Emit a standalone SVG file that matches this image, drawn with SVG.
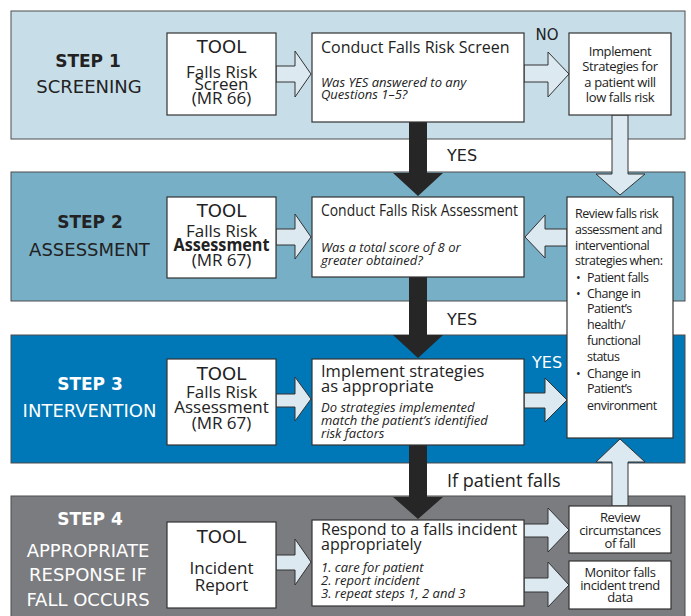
<svg xmlns="http://www.w3.org/2000/svg" width="691" height="616" viewBox="0 0 691 616">
<style>
.band{stroke:#4d4d4d;stroke-width:1}
.box{fill:#ffffff;stroke:#333333;stroke-width:1.2}
.la{fill:#dde9f0;stroke:#333333;stroke-width:1}
.da{fill:#262626}
text{font-family:"Open Sans","Noto Sans",sans-serif;fill:#222222}
.cap{font-family:"DejaVu Sans",sans-serif}
.step{font-family:"DejaVu Sans",sans-serif;font-weight:bold;font-size:17px}
.stage{font-family:"DejaVu Sans",sans-serif;font-size:18px}
.w{fill:#ffffff}
.tool{font-family:"DejaVu Sans",sans-serif;font-size:18px;text-anchor:middle}
.tt{font-size:17px;text-anchor:middle}
.ti{font-size:16px}
.it{font-size:13px;font-style:italic}
.sm{font-size:13px;text-anchor:middle;letter-spacing:-0.4px}
.rv{font-size:12.5px;letter-spacing:-0.5px}
.mid{text-anchor:middle}
</style>

<g id="bands">
<rect class="band" x="11" y="11" width="674" height="128" fill="#c7dee9"/>
<rect class="band" x="11" y="172" width="674" height="129" fill="#77afc6"/>
<rect class="band" x="11" y="335" width="674" height="128" fill="#0077b6"/>
<rect class="band" x="11" y="496" width="674" height="125" fill="#7b7c80"/>
</g>

<g id="step-labels">
<text class="step mid" x="88" y="67">STEP 1</text>
<text class="stage mid" x="89" y="93">SCREENING</text>
<text class="step mid" x="90" y="228">STEP 2</text>
<text class="stage mid" x="89.5" y="256">ASSESSMENT</text>
<text class="step mid w" x="90" y="390">STEP 3</text>
<text class="stage mid w" x="89.5" y="417">INTERVENTION</text>
<text class="step mid w" x="90" y="525">STEP 4</text>
<text class="stage mid w" x="88" y="557">APPROPRIATE</text>
<text class="stage mid w" x="88" y="581">RESPONSE IF</text>
<text class="stage mid w" x="88" y="606">FALL OCCURS</text>
</g>

<g id="connectors">
<path class="la" d="M276,66 H295 V51 L311,74 L295,97 V82 H276 Z"/>
<path class="la" d="M524,65 H548 V52 L569,74 L548,97 V82 H524 Z"/>
<path class="la" d="M612,115 V174 H596 L620,195 L645,174 H628 V115 Z"/>
<path class="da" d="M409,122 V173 H393 L418,196 L443,173 H427 V122 Z"/>
<path class="la" d="M276,229 H295 V214 L311,237 L295,259 V245 H276 Z"/>
<path class="la" d="M567,229 H545 V215 L525,237 L545,258 V246 H567 Z"/>
<path class="da" d="M409,277 V335 H393 L418,358 L443,335 H427 V277 Z"/>
<path class="la" d="M276,394 H295 V377 L311,399 L295,421 V407 H276 Z"/>
<path class="la" d="M524,393 H545 V378 L567,400 L545,422 V408 H524 Z"/>
<path class="da" d="M409,445 V497 H393 L418,519 L443,497 H427 V445 Z"/>
<path class="la" d="M276,555 H295 V539 L311,562 L295,585 V570 H276 Z"/>
<path class="la" d="M524,524 H548 V508 L569,530 L548,552 V537 H524 Z"/>
<path class="la" d="M524,578 H548 V562 L569,585 L548,607 V592 H524 Z"/>
<path class="la" d="M612,506 V462 H596 L620,439 L645,462 H628 V506 Z"/>
<text class="cap" x="547" y="40" font-size="15" text-anchor="middle">NO</text>
<text class="cap" x="447" y="161" font-size="16">YES</text>
<text class="cap" x="447" y="325" font-size="16">YES</text>
<text class="cap w" x="532" y="368" font-size="16">YES</text>
<text x="447" y="487" font-size="18">If patient falls</text>
</g>

<g id="tool1">
<rect class="box" x="167" y="33" width="109" height="82"/>
<text class="tool" x="221.5" y="53">TOOL</text>
<text class="tt" x="221.5" y="78">Falls Risk</text>
<text class="tt" x="221.5" y="90">Screen</text>
<text class="tt" x="221.5" y="104">(MR 66)</text>
</g>

<g id="screen">
<rect class="box" x="312" y="33" width="212" height="89"/>
<text class="ti" x="321" y="53">Conduct Falls Risk Screen</text>
<text class="it" x="321" y="87">Was YES answered to any</text>
<text class="it" x="321" y="99">Questions 1–5?</text>
</g>

<g id="low-risk">
<rect class="box" x="569" y="33" width="102" height="82"/>
<text class="sm" x="620" y="56">Implement</text>
<text class="sm" x="620" y="71">Strategies for</text>
<text class="sm" x="620" y="87">a patient will</text>
<text class="sm" x="620" y="102">low falls risk</text>
</g>

<g id="tool2">
<rect class="box" x="167" y="197" width="109" height="81"/>
<text class="tool" x="221.5" y="217">TOOL</text>
<text class="tt" x="221.5" y="237">Falls Risk</text>
<text class="tt" x="221.5" y="251" font-weight="bold" textLength="96" lengthAdjust="spacingAndGlyphs">Assessment</text>
<text class="tt" x="221.5" y="266">(MR 67)</text>
</g>

<g id="assessment">
<rect class="box" x="312" y="197" width="212" height="80"/>
<text class="ti" x="321" y="216" textLength="197" lengthAdjust="spacingAndGlyphs">Conduct Falls Risk Assessment</text>
<text class="it" x="321" y="252">Was a total score of 8 or</text>
<text class="it" x="321" y="265">greater obtained?</text>
</g>

<g id="review">
<rect class="box" x="567" y="197" width="106" height="241"/>
<text class="rv" x="575" y="218">Review falls risk</text>
<text class="rv" x="575" y="234">assessment and</text>
<text class="rv" x="575" y="250">interventional</text>
<text class="rv" x="575" y="265">strategies when:</text>
<text class="rv" x="576" y="282">•</text>
<text class="rv" x="587" y="282">Patient falls</text>
<text class="rv" x="576" y="298">•</text>
<text class="rv" x="587" y="298">Change in</text>
<text class="rv" x="587" y="313">Patient’s</text>
<text class="rv" x="587" y="329">health/</text>
<text class="rv" x="587" y="345">functional</text>
<text class="rv" x="587" y="361">status</text>
<text class="rv" x="576" y="378">•</text>
<text class="rv" x="587" y="378">Change in</text>
<text class="rv" x="587" y="393">Patient’s</text>
<text class="rv" x="587" y="410">environment</text>
</g>

<g id="tool3">
<rect class="box" x="167" y="359" width="109" height="86"/>
<text class="tool" x="221.5" y="380">TOOL</text>
<text class="tt" x="221.5" y="398">Falls Risk</text>
<text class="tt" x="221.5" y="413">Assessment</text>
<text class="tt" x="221.5" y="429">(MR 67)</text>
</g>

<g id="intervention">
<rect class="box" x="312" y="359" width="212" height="86"/>
<text x="321" y="377" font-size="16.5">Implement strategies</text>
<text x="321" y="392" font-size="16.5">as appropriate</text>
<text class="it" x="321" y="412">Do strategies implemented</text>
<text class="it" x="321" y="425">match the patient’s identified</text>
<text class="it" x="321" y="438">risk factors</text>
</g>

<g id="tool4">
<rect class="box" x="167" y="522" width="109" height="86"/>
<text class="tool" x="221.5" y="543">TOOL</text>
<text class="tt" x="221.5" y="574">Incident</text>
<text class="tt" x="221.5" y="591">Report</text>
</g>

<g id="respond">
<rect class="box" x="312" y="520" width="212" height="86"/>
<text class="ti" x="321" y="535">Respond to a falls incident</text>
<text class="ti" x="321" y="550">appropriately</text>
<text class="it" x="321" y="572">1. care for patient</text>
<text class="it" x="321" y="585">2. report incident</text>
<text class="it" x="321" y="598">3. repeat steps 1, 2 and 3</text>
</g>

<g id="review-fall">
<rect class="box" x="569" y="506" width="102" height="47"/>
<text class="sm" x="620" y="522">Review</text>
<text class="sm" x="620" y="535">circumstances</text>
<text class="sm" x="620" y="548">of fall</text>
</g>

<g id="monitor">
<rect class="box" x="569" y="561" width="102" height="48"/>
<text class="sm" x="620" y="577">Monitor falls</text>
<text class="sm" x="620" y="590">incident trend</text>
<text class="sm" x="620" y="602">data</text>
</g>
</svg>
